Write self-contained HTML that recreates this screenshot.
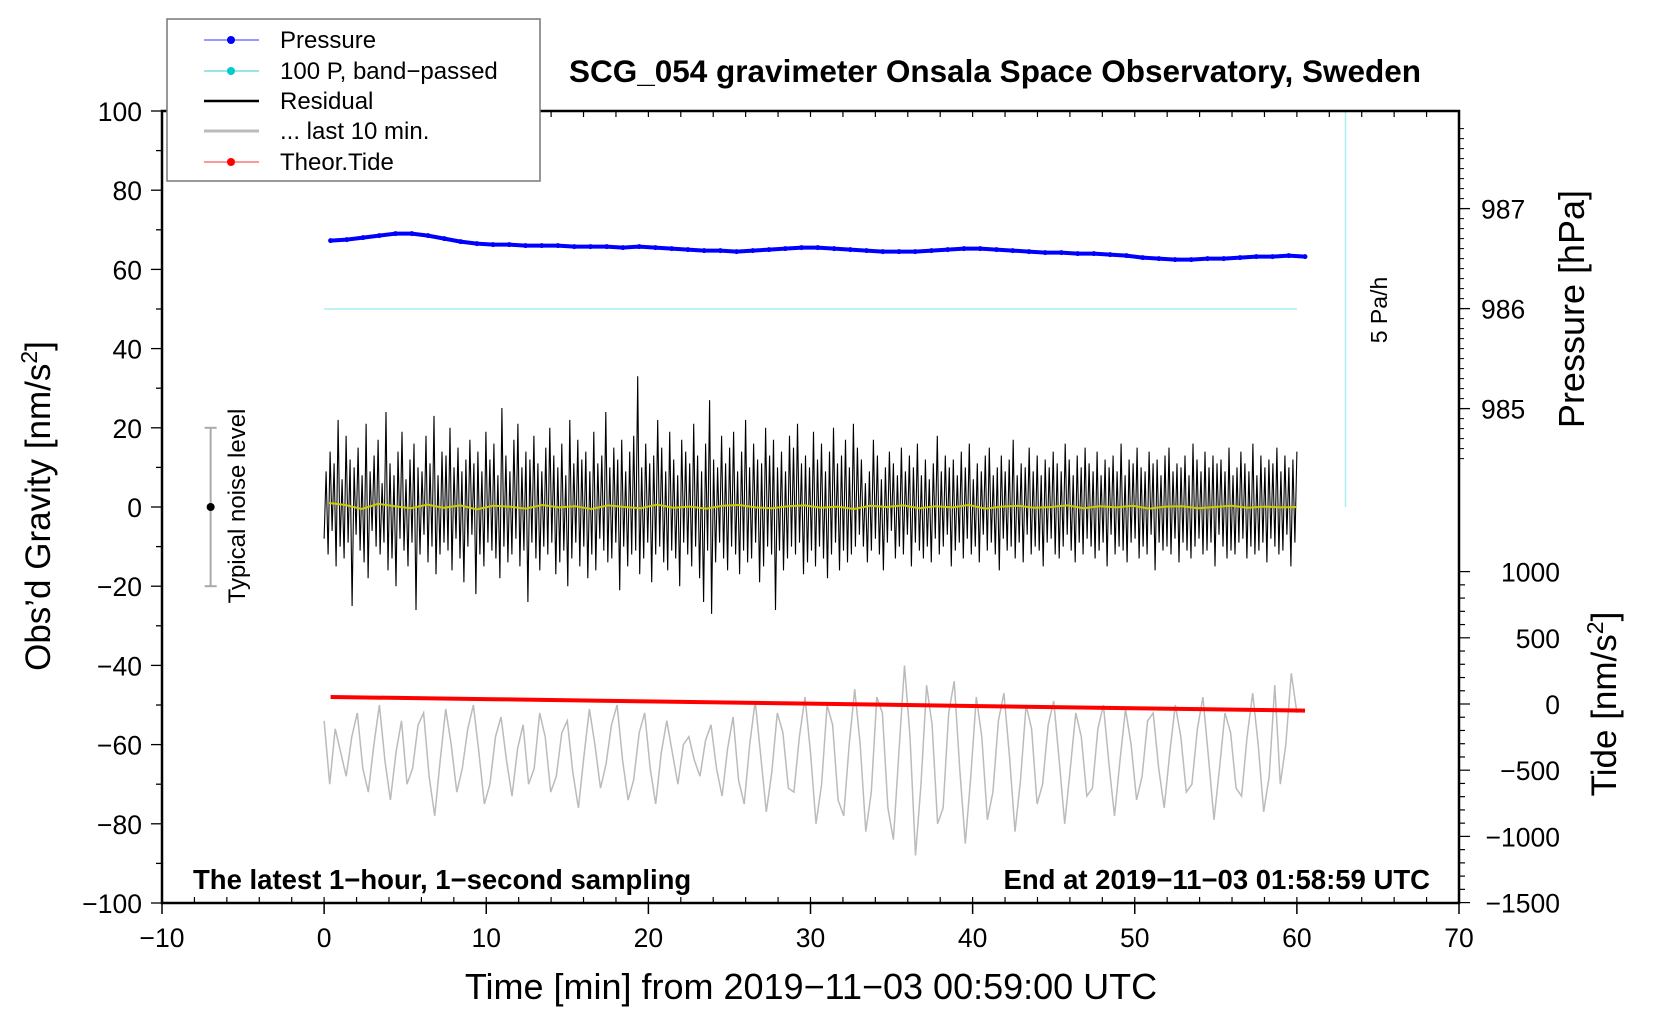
<!DOCTYPE html>
<html><head><meta charset="utf-8"><style>
body{margin:0;background:#fff;}
svg{display:block;font-family:"Liberation Sans",Arial,sans-serif;}
</style></head><body>
<svg id="chart" width="1660" height="1020" viewBox="0 0 1660 1020" xmlns="http://www.w3.org/2000/svg">
<rect width="1660" height="1020" fill="#fff"/>
<g id="marks"></g>
<g id="axes"></g>
<text x="995" y="82" font-size="31.5" font-weight="bold" text-anchor="middle">SCG_054 gravimeter Onsala Space Observatory, Sweden</text>
<text x="193" y="889" font-size="27.5" font-weight="bold">The latest 1−hour, 1−second sampling</text>
<text x="1430" y="889" font-size="27.5" font-weight="bold" text-anchor="end">End at 2019−11−03 01:58:59 UTC</text>
<text x="811" y="999" font-size="36" text-anchor="middle">Time [min] from 2019−11−03 00:59:00 UTC</text>
<text transform="translate(50,506) rotate(-90)" font-size="35" text-anchor="middle">Obs’d Gravity [nm/s<tspan font-size="23" dy="-13">2</tspan><tspan dy="13">]</tspan></text>
<text transform="translate(1584,309) rotate(-90)" font-size="36" text-anchor="middle">Pressure [hPa]</text>
<text transform="translate(1616,704) rotate(-90)" font-size="35" text-anchor="middle">Tide [nm/s<tspan font-size="23" dy="-13">2</tspan><tspan dy="13">]</tspan></text>
<text transform="translate(245,506) rotate(-90)" font-size="24" text-anchor="middle">Typical noise level</text>
<text transform="translate(1387,310) rotate(-90)" font-size="23" text-anchor="middle">5 Pa/h</text>
<g>
<rect x="167" y="19" width="373" height="162" fill="#fff" stroke="#777" stroke-width="1.5"/>
<line x1="204" y1="40" x2="259" y2="40" stroke="#33f" stroke-width="1"/><circle cx="231" cy="40" r="4" fill="#00f"/>
<text x="280" y="48" font-size="24">Pressure</text>
<line x1="204" y1="71" x2="259" y2="71" stroke="#3cc" stroke-width="1"/><circle cx="231" cy="71" r="4" fill="#0cc"/>
<text x="280" y="79" font-size="24">100 P, band−passed</text>
<line x1="204" y1="101" x2="259" y2="101" stroke="#000" stroke-width="2.5"/>
<text x="280" y="109" font-size="24">Residual</text>
<line x1="204" y1="131" x2="259" y2="131" stroke="#bbb" stroke-width="3"/>
<text x="280" y="139" font-size="24">... last 10 min.</text>
<line x1="204" y1="162" x2="259" y2="162" stroke="#f33" stroke-width="1"/><circle cx="231" cy="162" r="4" fill="#f00"/>
<text x="280" y="170" font-size="24">Theor.Tide</text>
</g>
</svg>
<script>
const xTicks=[-10,0,10,20,30,40,50,60,70];
const yTicks=[100,80,60,40,20,0,-20,-40,-60,-80,-100];
const pTicks=[987,986,985];
const tideTicks=[1000,500,0,-500,-1000,-1500];
const pressure=[986.68,986.69,986.71,986.73,986.75,986.75,986.73,986.70,986.67,986.65,986.64,986.64,986.63,986.63,986.63,986.62,986.62,986.62,986.61,986.62,986.61,986.60,986.59,986.58,986.58,986.57,986.58,986.59,986.60,986.61,986.61,986.60,986.59,986.58,986.57,986.57,986.57,986.58,986.59,986.60,986.60,986.59,986.58,986.57,986.56,986.56,986.55,986.55,986.54,986.53,986.51,986.50,986.49,986.49,986.50,986.50,986.51,986.52,986.52,986.53,986.52];
const bandPassed=[50,50];
const residual=[-8,9,-12,14,-6,11,-15,22,-10,7,-13,18,-9,12,-25,10,-7,15,-11,8,-14,21,-18,9,-6,13,-10,17,-12,6,-9,24,-16,11,-13,8,-20,14,-8,19,-11,7,-15,12,-9,16,-26,10,-12,9,-7,18,-14,11,-10,23,-17,8,-12,14,-9,13,-11,20,-16,10,-8,15,-13,9,-19,12,-10,17,-7,11,-22,14,-12,9,-15,19,-9,12,-11,16,-13,8,-18,25,-10,13,-14,9,-12,17,-8,21,-15,10,-11,14,-24,12,-9,18,-13,11,-16,9,-10,15,-12,20,-9,13,-17,10,-14,16,-11,8,-20,22,-13,11,-9,17,-15,12,-10,14,-18,9,-12,19,-16,11,-8,13,-11,24,-14,10,-13,15,-9,12,-21,17,-10,9,-15,14,-12,18,-11,33,-17,10,-13,16,-9,11,-19,13,-12,22,-10,15,-14,9,-16,19,-11,12,-13,8,-20,17,-9,14,-12,11,-15,21,-10,13,-18,9,-24,16,-11,27,-27,12,-14,10,-9,18,-13,11,-16,15,-10,19,-12,9,-17,14,-11,22,-14,10,-13,16,-9,12,-19,11,-15,20,-10,13,-12,17,-26,10,-11,14,-16,9,-13,18,-10,15,-12,21,-9,11,-17,13,-14,10,-11,19,-15,12,-10,16,-13,9,-18,14,-12,20,-9,11,-16,13,-11,17,-14,10,-12,21,-10,15,
-7,12,-10,6,-14,9,-11,17,-8,13,-12,7,-16,10,-9,14,-6,11,-13,8,-10,15,-12,9,-7,13,-15,10,-9,16,-11,8,-13,12,-10,7,-14,11,-8,18,-12,9,-10,13,-7,10,-15,12,-11,8,-9,14,-13,10,-8,16,-12,7,-10,11,-14,9,-7,13,-11,15,-9,8,-12,10,-16,13,-8,9,-11,12,-10,17,-13,8,-9,11,-14,10,-7,15,-12,9,-10,13,-11,8,-15,12,-9,10,-8,14,-12,11,-13,9,-10,16,-7,12,-11,8,-14,13,-9,10,-12,15,-8,11,-10,9,-13,14,-11,8,-9,12,-15,10,-7,13,-12,9,-10,16,-11,8,-14,12,-9,11,-8,15,-13,10,-10,9,-12,14,-7,11,-16,12,-9,8,-11,13,-10,15,-12,9,-8,11,-14,10,-9,13,-11,8,-13,16,-10,12,-8,9,-12,14,-11,10,-9,13,-15,11,-7,12,-10,9,-13,15,-11,8,-12,10,-9,14,-8,11,-13,9,-10,16,-12,8,-11,13,-9,10,-14,12,-8,11,-10,15,-12,9,-11,13,-7,10,-15,12,-9,14];
const smoothed=[1,0.5,-0.5,0.8,0.2,-0.3,0.6,-0.2,0.4,-0.6,0.3,0.1,-0.4,0.5,-0.1,0.2,-0.5,0.4,0,-0.3,0.6,-0.2,0.1,-0.4,0.3,0.5,-0.1,-0.3,0.2,0.4,-0.2,0.1,-0.5,0.3,0,0.4,-0.3,0.2,-0.1,0.5,-0.4,0.1,0.3,-0.2,0,0.4,-0.3,0.2,-0.1,0.3,-0.4,0.1,0.2,-0.3,0,0.3,-0.2,0.1,-0.1,0];
const last10=[-54,-70,-56,-62,-68,-58,-52,-66,-72,-60,-50,-64,-74,-62,-54,-70,-66,-55,-52,-68,-78,-64,-51,-60,-72,-66,-56,-50,-62,-75,-70,-58,-53,-64,-73,-61,-55,-70,-66,-52,-58,-72,-68,-57,-54,-67,-76,-63,-51,-60,-71,-65,-55,-50,-64,-74,-69,-57,-52,-66,-75,-62,-54,-62,-70,-60,-58,-64,-68,-59,-55,-66,-73,-61,-53,-69,-75,-60,-49,-63,-77,-67,-52,-57,-71,-72,-58,-48,-62,-80,-70,-50,-55,-74,-78,-60,-46,-60,-82,-72,-48,-52,-76,-84,-62,-40,-58,-88,-70,-45,-55,-80,-76,-52,-44,-66,-85,-68,-48,-58,-79,-72,-54,-47,-63,-82,-69,-50,-56,-75,-70,-55,-49,-64,-80,-66,-52,-58,-73,-71,-56,-50,-65,-78,-64,-51,-60,-74,-68,-54,-52,-66,-76,-62,-50,-58,-72,-70,-56,-48,-63,-79,-66,-52,-57,-71,-73,-58,-47,-60,-77,-68,-45,-70,-60,-42,-52];
const tide=[53,36,19,2,-16,-33,-50];

const L=162,R=1459,T=111,B=903;
const xs=t=>L+(t+10)*(R-L)/80;
const ys=v=>T+(100-v)*(B-T)/200;
const ps=p=>208.6+(987-p)*100;
const ts=v=>704-v*0.1324;
const NS="http://www.w3.org/2000/svg";
const marks=document.getElementById('marks'),axes=document.getElementById('axes');
function mk(tag,attrs,parent){const e=document.createElementNS(NS,tag);for(const k in attrs)e.setAttribute(k,attrs[k]);parent.appendChild(e);return e;}
function series(arr,t0,t1,yf){return arr.map((v,i)=>[xs(t0+(t1-t0)*i/(arr.length-1)),yf(v)]);}
function pts(a){return a.map(p=>p[0].toFixed(1)+','+p[1].toFixed(1)).join(' ');}

let bp=mk('polyline',{points:pts(series(bandPassed,0,60,ys)),fill:'none',stroke:'#aee',"stroke-width":1.5},marks);


let rb=mk('line',{x1:xs(63),x2:xs(63),y1:ys(100),y2:ys(0),stroke:'#aee',"stroke-width":1.5},marks);


const pp=series(pressure,0.4,60.5,ps);
let pl=mk('polyline',{points:pts(pp),fill:'none',stroke:'#00f',"stroke-width":4},marks);


pp.forEach(p=>{const c=mk('circle',{cx:p[0],cy:p[1],r:2.5,fill:'#00f'},marks);

});
let gl=mk('polyline',{points:pts(series(last10,0,60,ys)),fill:'none',stroke:'#bbb',"stroke-width":1.5},marks);


let rl=mk('polyline',{points:pts(series(residual,0,60,ys)),fill:'none',stroke:'#000',"stroke-width":1.1},marks);


let sl=mk('polyline',{points:pts(series(smoothed,0.3,60,ys)),fill:'none',stroke:'#cc0',"stroke-width":2},marks);


let tl=mk('polyline',{points:pts(series(tide,0.4,60.5,ts)),fill:'none',stroke:'#f00',"stroke-width":4},marks);


let nb=mk('g',{},marks);


mk('line',{x1:xs(-7),x2:xs(-7),y1:ys(20),y2:ys(-20),stroke:'#aaa',"stroke-width":2},nb);
mk('line',{x1:xs(-7)-6,x2:xs(-7)+6,y1:ys(20),y2:ys(20),stroke:'#aaa',"stroke-width":2},nb);
mk('line',{x1:xs(-7)-6,x2:xs(-7)+6,y1:ys(-20),y2:ys(-20),stroke:'#aaa',"stroke-width":2},nb);
mk('circle',{cx:xs(-7),cy:ys(0),r:4,fill:'#000'},nb);

let fr=mk('rect',{x:L,y:T,width:R-L,height:B-T,fill:'none',stroke:'#000',"stroke-width":2.5},axes);


for(let t=-10;t<=70;t+=2){const x=xs(t);mk('line',{x1:x,x2:x,y1:B,y2:B-6,stroke:'#000',"stroke-width":1.2},axes);mk('line',{x1:x,x2:x,y1:T,y2:T+6,stroke:'#000',"stroke-width":1.2},axes);}
xTicks.forEach(t=>{const x=xs(t);mk('line',{x1:x,x2:x,y1:B,y2:B+11,stroke:'#000',"stroke-width":1.5},axes);
const tx=mk('text',{x:x,y:B+44,"font-size":26.5,"text-anchor":"middle"},axes);tx.textContent=String(t).replace('-','−');

});
for(let v=-100;v<=100;v+=10){mk('line',{x1:L,x2:L-(v%20===0?11:6),y1:ys(v),y2:ys(v),stroke:'#000',"stroke-width":1.3},axes);}
yTicks.forEach(v=>{const tx=mk('text',{x:L-20,y:ys(v)+10,"font-size":26.5,"text-anchor":"end"},axes);tx.textContent=String(v).replace('-','−');

});
for(let p=984.5;p<=987.9;p+=0.1){const y=ps(p);if(y<T||y>ys(0))continue;mk('line',{x1:R,x2:R+5,y1:y,y2:y,stroke:'#000',"stroke-width":1},axes);}
pTicks.forEach(p=>{const y=ps(p);mk('line',{x1:R,x2:R+11,y1:y,y2:y,stroke:'#000',"stroke-width":1.3},axes);
const tx=mk('text',{x:R+22,y:y+10,"font-size":26.5},axes);tx.textContent=p;

});
for(let v=-1500;v<=1000;v+=100){const y=ts(v);mk('line',{x1:R,x2:R+(v%500===0?11:6),y1:y,y2:y,stroke:'#000',"stroke-width":1.2},axes);}
tideTicks.forEach(v=>{const y=ts(v);const tx=mk('text',{x:R+101,y:y+10,"font-size":26.5,"text-anchor":"end"},axes);tx.textContent=String(v).replace('-','−');

});
</script>
</body></html>
